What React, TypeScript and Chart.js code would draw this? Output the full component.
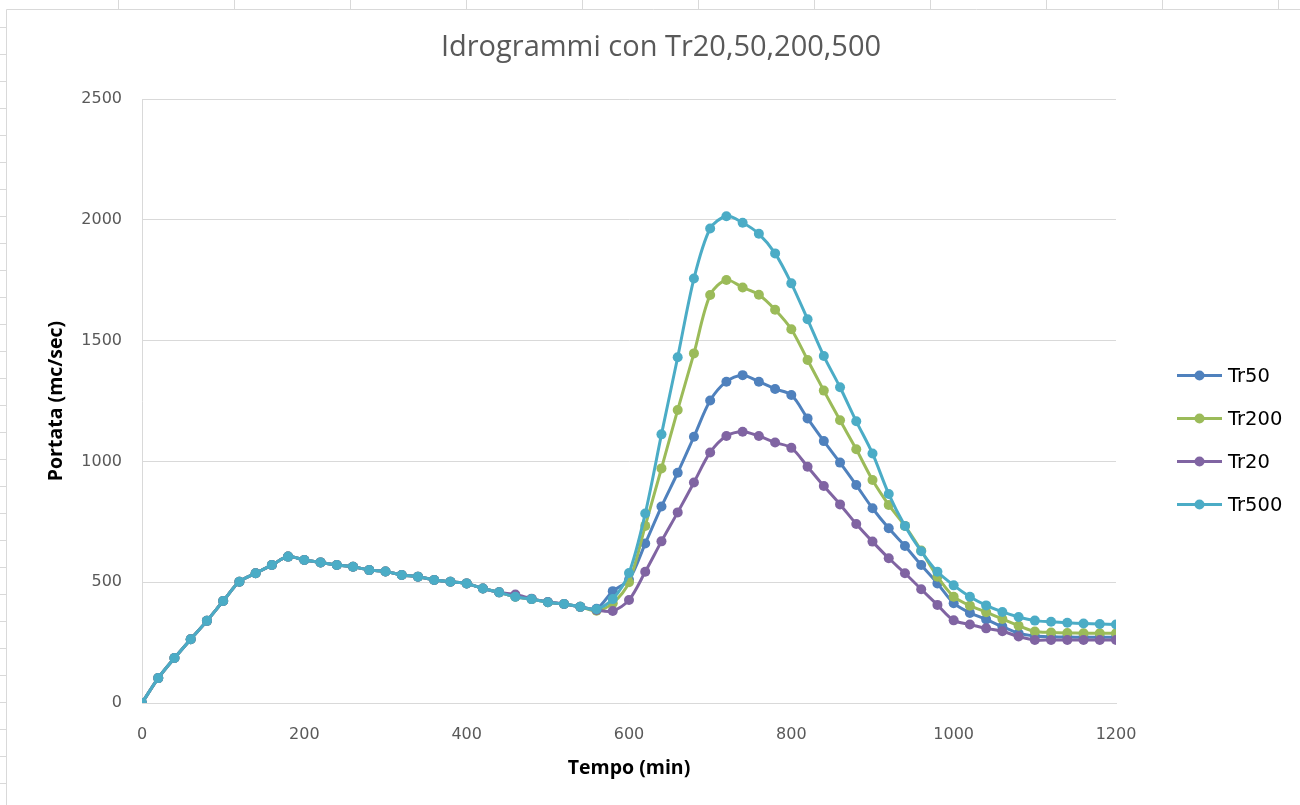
import React, { useEffect, useRef } from "react";
import { Chart, registerables } from "chart.js";

Chart.register(...registerables);

const chartTitle = "Idrogrammi con Tr20,50,200,500";
const xAxisTitle = "Tempo (min)";
const yAxisTitle = "Portata (mc/sec)";

const minutes = [
  0, 20, 40, 60, 80, 100, 120, 140, 160, 180, 200, 220, 240, 260, 280, 300,
  320, 340, 360, 380, 400, 420, 440, 460, 480, 500, 520, 540, 560, 580, 600,
  620, 640, 660, 680, 700, 720, 740, 760, 780, 800, 820, 840, 860, 880, 900,
  920, 940, 960, 980, 1000, 1020, 1040, 1060, 1080, 1100, 1120, 1140, 1160,
  1180, 1200,
];

// common rising limb (0..440 min)
const baseFlow = [
  0, 103, 186, 264, 340, 422, 502, 537, 571, 606, 592, 582, 571, 564, 550, 544,
  530, 523, 509, 502, 495, 474, 458,
];

const tr50Tail = [
  440, 430, 417, 410, 398, 390, 463, 510, 660, 813, 953, 1102, 1252, 1330, 1357,
  1330, 1300, 1275, 1178, 1084, 995, 902, 806, 723, 650, 571, 495, 413, 373,
  346, 316, 289, 277, 274, 273, 272, 272, 272,
];
const tr200Tail = [
  440, 430, 417, 410, 398, 382, 413, 500, 733, 971, 1213, 1447, 1689, 1751,
  1720, 1690, 1628, 1547, 1420, 1293, 1170, 1050, 923, 820, 733, 631, 523, 440,
  403, 376, 348, 320, 296, 292, 290, 289, 289, 289,
];
const tr20Tail = [
  449, 432, 418, 410, 398, 385, 381, 426, 543, 669, 789, 913, 1037, 1105, 1123,
  1105, 1078, 1056, 978, 898, 822, 741, 668, 599, 537, 471, 406, 342, 325, 309,
  297, 275, 261, 261, 261, 261, 261, 261,
];
const tr500Tail = [
  440, 430, 417, 410, 398, 388, 430, 538, 784, 1112, 1431, 1757, 1964, 2015,
  1988, 1942, 1861, 1737, 1588, 1436, 1307, 1166, 1033, 865, 733, 628, 543, 487,
  440, 404, 377, 356, 341, 336, 332, 329, 327, 325,
];

const tr50 = [...baseFlow, ...tr50Tail];
const tr200 = [...baseFlow, ...tr200Tail];
const tr20 = [...baseFlow, ...tr20Tail];
const tr500 = [...baseFlow, ...tr500Tail];

const seriesLabels = ["Tr50", "Tr200", "Tr20", "Tr500"];
const seriesValues = [tr50, tr200, tr20, tr500];
const seriesColors = ["#4f81bd", "#9bbb59", "#8064a2", "#4bacc6"];
const seriesOrder = [4, 3, 2, 1];

const yTicks = [0, 500, 1000, 1500, 2000, 2500];
const xTicks = [0, 200, 400, 600, 800, 1000, 1200];

const TEXT = "#595959";
const GRID = "#d9d9d9";

const framePlugin = {
  id: "frame",
  beforeDraw(chart: any) {
    const { ctx, width, height } = chart;
    ctx.save();
    ctx.fillStyle = "#ffffff";
    ctx.fillRect(0, 0, width, height);
    ctx.strokeStyle = "#d9d9d9";
    ctx.lineWidth = 1;
    ctx.beginPath();
    ctx.moveTo(6.5, height);
    ctx.lineTo(6.5, 9.5);
    ctx.lineTo(width, 9.5);
    // spreadsheet cell separators peeking out around the chart frame
    for (let x = 118; x < width; x += 116) {
      ctx.moveTo(x + 0.5, 0);
      ctx.lineTo(x + 0.5, 9.5);
    }
    for (let y = 27; y < height; y += 27) {
      ctx.moveTo(0, y + 0.5);
      ctx.lineTo(6.5, y + 0.5);
    }
    ctx.stroke();
    ctx.restore();
  },
};

const titlePlugin = {
  id: "customTitle",
  afterDraw(chart: any) {
    const { ctx, chartArea } = chart;
    ctx.save();
    ctx.font = "29px 'Open Sans'";
    ctx.fillStyle = TEXT;
    ctx.textAlign = "center";
    ctx.textBaseline = "middle";
    ctx.fillText(chartTitle, chartArea.left + 519, chartArea.top - 51);
    ctx.restore();
  },
};

const legendPlugin = {
  id: "customLegend",
  afterDraw(chart: any) {
    const { ctx, chartArea } = chart;
    ctx.save();
    const x0 = chartArea.right + 61;
    const rowGap = 43;
    const midY = (chartArea.top + chartArea.bottom) / 2 + 39;
    const startY = midY - (rowGap * (seriesLabels.length - 1)) / 2;
    ctx.font = "19.5px 'DejaVu Sans'";
    ctx.textBaseline = "middle";
    ctx.textAlign = "left";
    seriesLabels.forEach((label, i) => {
      const y = startY + i * rowGap;
      ctx.strokeStyle = seriesColors[i];
      ctx.lineWidth = 3;
      ctx.beginPath();
      ctx.moveTo(x0, y);
      ctx.lineTo(x0 + 45, y);
      ctx.stroke();
      ctx.fillStyle = seriesColors[i];
      ctx.beginPath();
      ctx.arc(x0 + 22.5, y, 5, 0, Math.PI * 2);
      ctx.fill();
      ctx.fillStyle = "#000000";
      ctx.fillText(label, x0 + 51, y + 1);
    });
    ctx.restore();
  },
};

export default function App() {
  const canvasRef = useRef<HTMLCanvasElement | null>(null);

  useEffect(() => {
    if (!canvasRef.current) return;
    const chart = new Chart(canvasRef.current, {
      type: "line",
      data: {
        datasets: seriesLabels.map((label, i) => ({
          label,
          data: minutes.map((m, j) => ({ x: m, y: seriesValues[i][j] })),
          borderColor: seriesColors[i],
          backgroundColor: seriesColors[i],
          borderWidth: 3,
          pointRadius: 5,
          pointBorderWidth: 0,
          pointBackgroundColor: seriesColors[i],
          tension: 0.3,
          order: seriesOrder[i],
          fill: false,
        })),
      },
      options: {
        responsive: false,
        animation: false,
        layout: { padding: { left: 0, right: 184, top: 99, bottom: 0 } },
        plugins: {
          legend: { display: false },
          tooltip: { enabled: false },
          title: { display: false },
        },
        scales: {
          x: {
            type: "linear",
            min: 0,
            max: 1200,
            afterBuildTicks(scale: any) {
              scale.ticks = xTicks.map((v) => ({ value: v }));
            },
            afterFit(scale: any) {
              scale.height = 102;
            },
            grid: { display: false, drawTicks: false },
            border: { display: true, color: GRID, width: 1 },
            ticks: {
              color: TEXT,
              font: { family: "'DejaVu Sans'", size: 16 },
              padding: 22,
              maxRotation: 0,
              callback: (v: any) => String(v),
            },
            title: {
              display: true,
              text: xAxisTitle,
              color: "#000000",
              font: { family: "'Open Sans'", size: 19.5, weight: "bold" },
              padding: { top: 0, bottom: 25 },
            },
          },
          y: {
            min: 0,
            max: 2500,
            afterBuildTicks(scale: any) {
              scale.ticks = yTicks.map((v) => ({ value: v }));
            },
            afterFit(scale: any) {
              scale.width = 142;
            },
            grid: { color: GRID, lineWidth: 1, drawTicks: false },
            border: { display: true, color: GRID, width: 1 },
            ticks: {
              color: TEXT,
              font: { family: "'DejaVu Sans'", size: 16 },
              padding: 20,
              callback: (v: any) => String(v),
            },
            title: {
              display: true,
              text: yAxisTitle,
              color: "#000000",
              font: { family: "'Open Sans'", size: 19.5, weight: "bold" },
              padding: { top: 45, bottom: 0 },
            },
          },
        },
      },
      plugins: [framePlugin, titlePlugin, legendPlugin],
    } as any);
    return () => chart.destroy();
  }, []);

  return (
    <div style={{ position: "fixed", left: 0, top: 0, width: 1300, height: 805, background: "#fff" }}>
      <canvas ref={canvasRef} width={1300} height={805} />
    </div>
  );
}
